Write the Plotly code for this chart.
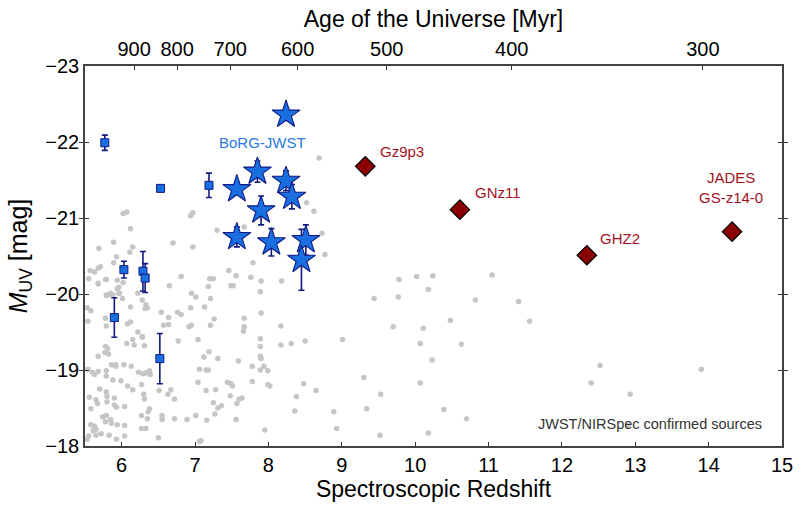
import numpy as np
import plotly.graph_objects as go

# ---------------- data ----------------
# literature spectroscopic sources (gray)
gray_z = [8.69, 8.52, 8.62, 7.30, 7.67, 8.73, 8.77, 7.79, 7.46, 7.56, 7.76, 7.90, 8.18, 7.20, 7.25, 7.18,
          7.49, 7.52, 7.89, 7.21, 7.13, 7.90, 7.26, 7.21, 7.67, 7.67, 7.66, 8.17, 7.89, 7.89, 8.17, 8.31,
          8.50, 9.01, 7.19, 7.12, 7.31, 7.59, 7.89, 7.90, 7.78, 7.94, 7.89, 7.99, 7.15, 7.18, 7.44, 7.49,
          7.51, 7.78, 7.99, 8.02, 8.48, 8.65, 7.15, 7.28, 7.48, 7.60, 7.64, 7.57, 8.38, 7.25, 7.31, 7.36,
          7.27, 8.36, 8.89, 7.16, 7.56, 7.95, 8.93, 7.08,
          9.78, 10.02, 10.24, 11.05, 10.18, 9.44, 9.77, 10.82, 11.41, 10.48, 9.70, 10.11, 11.56, 10.07,
          10.63, 10.23, 12.52, 13.90, 9.30, 10.07, 12.40, 9.53, 12.93, 9.34, 10.39, 10.70, 9.52, 10.18, 12.90,
          6.02, 6.07, 6.12, 5.69, 5.89, 6.15, 6.11, 5.93, 5.89, 5.57, 5.63, 5.68, 5.71, 5.55, 5.68, 5.79,
          5.94, 5.96, 6.02, 5.80, 5.85, 5.96, 6.94, 6.97, 6.70, 6.97, 6.81, 6.65, 7.01, 6.95,
          5.78, 5.68, 5.94, 5.88, 5.83, 5.79, 5.97, 6.01, 5.53, 5.58, 6.12, 6.28, 6.33, 6.35, 6.32, 6.22,
          6.94, 6.54, 6.64, 6.57, 6.64, 6.76, 6.81, 6.95, 6.08, 6.12, 5.78, 5.79, 5.54,
          6.22, 6.28, 6.77, 6.92, 7.04, 6.07, 6.15, 6.17, 6.28, 6.31, 5.78, 5.81, 5.77, 5.82, 5.68,
          5.86, 5.92, 5.92, 6.03, 6.13, 6.23, 6.29, 6.33, 6.38, 6.39, 5.60, 5.68, 5.63, 5.54, 5.79, 5.79,
          7.06, 5.88, 5.99, 6.67, 7.04, 6.08, 6.15, 6.27, 6.30, 6.31, 6.51, 6.63, 6.72,
          5.70, 5.79, 5.80, 5.90, 5.80, 5.90, 5.56, 5.65, 5.67, 5.58, 6.04, 5.93, 6.38, 6.36, 6.35, 6.27,
          6.55, 6.55, 6.72, 6.89, 7.01, 5.74, 5.79, 5.78, 5.85, 5.86, 5.58, 5.63, 5.65, 5.61, 5.94, 6.04,
          6.27, 6.33, 5.55, 5.65, 5.72, 5.83, 5.93, 6.04, 6.50, 7.06, 5.53]
gray_muv = [-21.79, -21.20, -21.09, -20.84, -20.88, -20.80, -20.52, -20.41, -20.31, -20.24, -20.22, -20.17,
            -20.17, -20.20, -20.20, -20.10, -20.11, -20.11, -20.03, -19.94, -19.83, -19.75, -19.67, -19.59,
            -19.68, -19.57, -19.51, -19.58, -19.41, -19.31, -19.33, -19.35, -19.38, -19.40, -19.24, -19.17,
            -19.15, -19.12, -19.18, -19.15, -19.05, -19.05, -19.00, -18.99, -19.00, -19.00, -18.84, -18.82,
            -18.79, -18.85, -18.81, -18.79, -18.82, -18.73, -18.73, -18.74, -18.66, -18.62, -18.63, -18.56,
            -18.65, -18.57, -18.50, -18.53, -18.42, -18.46, -18.45, -18.34, -18.35, -18.21, -18.23, -18.07,
            -20.19, -20.23, -20.24, -20.25, -20.06, -19.94, -19.96, -19.92, -19.90, -19.65, -19.57, -19.55,
            -19.64, -19.35, -19.34, -19.13, -19.06, -19.01, -18.90, -18.83, -18.83, -18.68, -18.68, -18.49,
            -18.48, -18.36, -18.14, -18.17, -18.27,
            -21.06, -21.08, -20.86, -20.60, -20.68, -20.62, -20.55, -20.49, -20.41, -20.31, -20.29, -20.34,
            -20.36, -20.20, -20.14, -20.19, -20.18, -20.09, -20.15, -19.99, -20.01, -20.01, -21.03, -21.07,
            -20.67, -20.62, -20.23, -20.11, -19.96, -20.01,
            -20.19, -20.13, -20.07, -19.99, -19.99, -19.98, -20.01, -19.94, -19.82, -19.78, -19.83, -19.92,
            -19.86, -19.82, -19.81, -20.01, -19.82, -19.76, -19.69, -19.59, -19.60, -19.76, -19.73, -19.59,
            -19.61, -19.63, -19.68, -19.58, -19.64,
            -19.50, -19.44, -19.38, -19.57, -19.40, -19.35, -19.40, -19.33, -19.43, -19.32, -19.31, -19.28,
            -19.23, -19.21, -19.18, -19.07, -19.07, -19.05, -19.07, -19.05, -18.97, -18.95, -18.96, -18.99,
            -18.94, -18.97, -18.98, -18.94, -19.01, -18.99, -18.92, -19.01, -18.87, -18.86, -18.74, -18.84,
            -18.79, -18.74, -18.81, -18.68, -18.62, -18.73, -18.68, -18.62,
            -18.75, -18.71, -18.65, -18.63, -18.58, -18.54, -18.64, -18.61, -18.56, -18.49, -18.52, -18.51,
            -18.49, -18.45, -18.36, -18.40, -18.40, -18.35, -18.36, -18.35, -18.40, -18.38, -18.40, -18.32,
            -18.35, -18.30, -18.28, -18.26, -18.22, -18.20, -18.28, -18.27, -18.23, -18.23, -18.13, -18.14,
            -18.16, -18.14, -18.09, -18.13, -18.11, -18.06, -18.09]

# blue squares (with error bars)
sq_z = [5.77, 6.53, 7.19, 6.03, 6.29, 6.32, 5.90, 6.52]
sq_muv = [-21.99, -21.39, -21.43, -20.32, -20.30, -20.21, -19.69, -19.15]
sq_err = [0.10, 0.04, 0.16, 0.11, 0.26, 0.19, 0.26, 0.33]

# BoRG-JWST stars
borg_z = [8.24, 7.57, 7.85, 8.24, 8.32, 7.90, 7.57, 8.04, 8.51, 8.45]
borg_muv = [-22.36, -21.38, -21.61, -21.49, -21.28, -21.10, -20.75, -20.68, -20.71, -20.45]
borg_err = [0.0, 0.0, 0.14, 0.13, 0.16, 0.19, 0.13, 0.18, 0.20, 0.40]

# notable high-z sources
hz_names = ["Gz9p3", "GNz11", "GHZ2", "JADES<br>GS-z14-0"]
hz_z = [9.32, 10.61, 12.34, 14.32]
hz_muv = [-21.68, -21.11, -20.51, -20.82]

# top axis ages
age_ticks_myr = [900, 800, 700, 600, 500, 400, 300]


def age_to_z(t_myr, H0=67.7, Om=0.31):
    OL = 1.0 - Om
    hubble_time_gyr = 977.8 / H0
    pref = 2.0 / (3.0 * np.sqrt(OL)) * hubble_time_gyr
    x = np.sinh((t_myr / 1000.0) / pref)
    return (np.sqrt(OL / Om) / x) ** (2.0 / 3.0) - 1.0


age_tick_z = [float(age_to_z(t)) for t in age_ticks_myr]

# ---------------- figure ----------------
BLUE = "#1a6fe0"
NAVY = "#101a80"
DRED = "#8b0000"
LRED = "#a3121c"
FONT = "Liberation Sans, Arial, sans-serif"

fig = go.Figure()

fig.add_trace(go.Scatter(
    x=gray_z, y=gray_muv, mode="markers",
    marker=dict(size=5.5, color="#c6c6c6", line=dict(width=0)),
    showlegend=False, hoverinfo="skip"))

fig.add_trace(go.Scatter(
    x=sq_z, y=sq_muv, mode="markers",
    error_y=dict(type="data", array=sq_err, color=NAVY, thickness=1.6, width=3),
    marker=dict(symbol="square", size=8, color=BLUE, line=dict(color=NAVY, width=1)),
    showlegend=False))

fig.add_trace(go.Scatter(
    x=borg_z, y=borg_muv, mode="markers",
    error_y=dict(type="data", array=borg_err, color=NAVY, thickness=1.6, width=3),
    marker=dict(symbol="star", size=21, color=BLUE, line=dict(color=NAVY, width=1.1)),
    showlegend=False))

fig.add_trace(go.Scatter(
    x=hz_z, y=hz_muv, mode="markers",
    marker=dict(symbol="diamond", size=15, color=DRED, line=dict(color="black", width=1.2)),
    showlegend=False))

# labels for notable sources, offset from their markers
label_shift = [(37, 15), (38, 17), (33, 17), (-1, 44)]
for name, zz, mm, (dx, dy) in zip(hz_names, hz_z, hz_muv, label_shift):
    fig.add_annotation(x=zz, y=mm, text=name, showarrow=False, xshift=dx, yshift=dy,
                       font=dict(family=FONT, size=15, color=LRED))

fig.add_annotation(x=7.92, y=-21.99, text="BoRG-JWST", showarrow=False,
                   font=dict(family=FONT, size=15, color="#2a78e4"))
fig.add_annotation(x=1, y=0, xref="paper", yref="paper", xanchor="right", yanchor="bottom",
                   xshift=-18, yshift=12, text="JWST/NIRSpec confirmed sources", showarrow=False,
                   font=dict(family=FONT, size=14.5, color="#333333"))

axis_common = dict(showgrid=False, zeroline=False, linecolor="#444444", linewidth=1.6,
                   ticks="inside", ticklen=4, tickwidth=1.3, tickcolor="#333333", automargin=False,
                   tickfont=dict(family=FONT, size=20, color="black"))

fig.update_layout(
    width=800, height=507,
    margin=dict(l=85, r=18, t=66, b=61),
    paper_bgcolor="white", plot_bgcolor="white",
    font=dict(family=FONT, color="black"),
    xaxis=dict(range=[5.5, 15], tickvals=list(range(6, 16)), mirror=True,
               title=dict(text="Spectroscopic Redshift", font=dict(family=FONT, size=23), standoff=4),
               **axis_common),
    xaxis2=dict(range=[5.5, 15], overlaying="x", side="top", tickvals=age_tick_z,
                ticktext=[str(t) for t in age_ticks_myr],
                title=dict(text="Age of the Universe [Myr]", font=dict(family=FONT, size=23), standoff=4),
                **axis_common),
    yaxis=dict(range=[-18, -23], tickvals=[-23, -22, -21, -20, -19, -18], mirror="allticks",
               title=dict(text="<i>M</i><sub>UV</sub> [mag]", font=dict(family=FONT, size=25), standoff=11),
               **axis_common),
)

# invisible trace to activate the top axis
fig.add_trace(go.Scatter(x=[hz_z[0]], y=[hz_muv[0]], xaxis="x2", mode="markers",
                         marker=dict(opacity=0), showlegend=False, hoverinfo="skip"))

fig.write_html("out.html", config={"displayModeBar": False},
               post_script="document.body.style.margin='0px';")
